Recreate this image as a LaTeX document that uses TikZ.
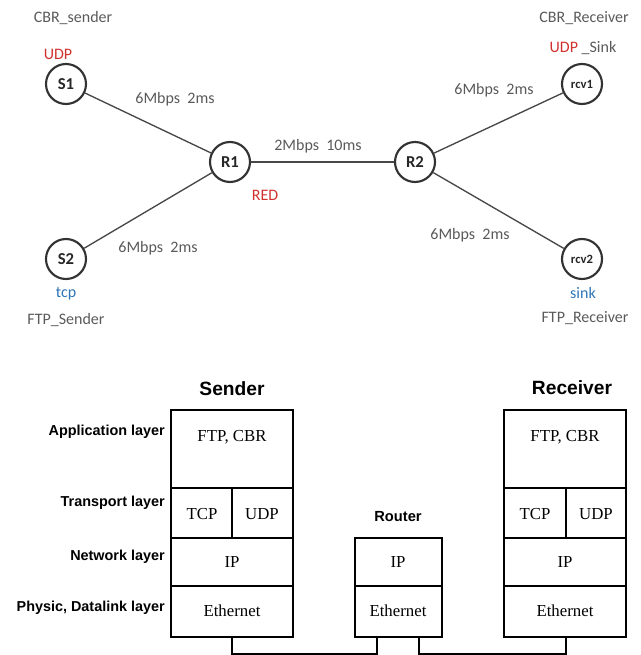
\documentclass[tikz,border=0pt]{standalone}
\usepackage{fontspec}
\setmainfont{Liberation Serif}
\setsansfont{Liberation Sans}
\newfontfamily\calfont{Carlito}
\definecolor{labelgray}{HTML}{5A5A5A}
\definecolor{nodegray}{HTML}{333333}
\definecolor{udpred}{HTML}{D0312D}
\definecolor{tcpblue}{HTML}{2E75B6}
\begin{document}
\begin{tikzpicture}[x=0.75pt,y=-0.75pt,
  host/.style={circle,draw=nodegray,line width=1.6pt,minimum size=30pt,inner sep=0pt,
    font=\calfont\fontsize{12.5}{13}\selectfont\bfseries,text=black!85},
  rcv/.style={host,font=\calfont\fontsize{9.5}{10}\selectfont\bfseries},
  link/.style={draw=nodegray!90,line width=1pt},
  toptext/.style={font=\calfont\fontsize{12}{14}\selectfont,text=labelgray,inner sep=0pt},
  redtext/.style={toptext,text=udpred},
  bluetext/.style={toptext,text=tcpblue},
  layername/.style={font=\sffamily\bfseries\fontsize{10.8}{12}\selectfont,anchor=east,inner sep=0pt},
  title/.style={font=\sffamily\bfseries\fontsize{14.4}{16}\selectfont,inner sep=0pt},
  cellline/.style={line width=0.9pt},
  frame/.style={line width=1.6pt},
  celltext/.style={font=\rmfamily\fontsize{12.6}{14}\selectfont,inner sep=0pt},
  wire/.style={line width=1pt}]
\useasboundingbox (0,0) rectangle (640,655);

% ---------- topology ----------
\node[host] (S1) at (66,84) {S1};
\node[host] (S2) at (66,259) {S2};
\node[host] (R1) at (230,162) {R1};
\node[host] (R2) at (415,162) {R2};
\node[rcv] (rcv1) at (582,84) {rcv1};
\node[rcv] (rcv2) at (582,259) {rcv2};

\draw[link] (S1) -- (R1);
\draw[link] (S2) -- (R1);
\draw[link] (R1) -- (R2);
\draw[link] (R2) -- (rcv1);
\draw[link] (R2) -- (rcv2);

\node[toptext] (l1) at (175,99) {6Mbps\ \ 2ms};
\node[toptext] (l2) at (158,248) {6Mbps\ \ 2ms};
\node[toptext] (l3) at (318,146) {2Mbps\ \ 10ms};
\node[toptext] (l4) at (494,90) {6Mbps\ \ 2ms};
\node[toptext] (l5) at (470,235) {6Mbps\ \ 2ms};

\node[toptext] (cbrs) at (73,18) {CBR\_sender};
\node[redtext] (udp1) at (58,54) {UDP};
\node[bluetext] (tcp1) at (66,294) {tcp};
\node[toptext] (ftps) at (66,320) {FTP\_Sender};
\node[redtext] (red) at (265,195) {RED};
\node[toptext] (cbrr) at (584,18) {CBR\_Receiver};
\node[toptext] (udps) at (583,48) {\textcolor{udpred}{UDP} \_Sink};
\node[bluetext] (sink) at (583,293) {sink};
\node[toptext] (ftpr) at (585,318) {FTP\_Receiver};

% ---------- protocol stacks ----------
\node[title] (tSend) at (232,389) {Sender};
\node[title] (tRecv) at (572,388) {Receiver};
\node[font=\sffamily\bfseries\fontsize{11}{13}\selectfont,inner sep=0pt] (tRout) at (398,517) {Router};

\node[layername] (nApp) at (165,432) {Application layer};
\node[layername] (nTra) at (165,503) {Transport layer};
\node[layername] (nNet) at (165,557) {Network layer};
\node[layername] (nPhy) at (165,608) {Physic, Datalink layer};

% sender cells
\draw[cellline] (171,488) -- (293,488) (171,538) -- (293,538) (171,586) -- (293,586) (232,488) -- (232,538);
\draw[frame] (171,410) rectangle (293,637);
% receiver cells
\draw[cellline] (504,488) -- (626,488) (504,538) -- (626,538) (504,586) -- (626,586) (566,488) -- (566,538);
\draw[frame] (504,410) rectangle (626,637);
% router cells
\draw[cellline] (355,586) -- (442,586);
\draw[frame] (355,538) rectangle (442,637);

\node[celltext] (sApp) at (232,437) {FTP, CBR};
\node[celltext] (sTcp) at (202,514) {TCP};
\node[celltext] (sUdp) at (262,514) {UDP};
\node[celltext] (sIp) at (232,562) {IP};
\node[celltext] (sEth) at (232,611) {Ethernet};

\node[celltext] (rApp) at (565,437) {FTP, CBR};
\node[celltext] (rTcp) at (535,514) {TCP};
\node[celltext] (rUdp) at (596,514) {UDP};
\node[celltext] (rIp) at (565,562) {IP};
\node[celltext] (rEth) at (565,611) {Ethernet};

\node[celltext] (gIp) at (398,562) {IP};
\node[celltext] (gEth) at (398,611) {Ethernet};

% wiring between the stacks
\coordinate (sPort) at (232,637);
\coordinate (gPortL) at (377,637);
\coordinate (gPortR) at (419,637);
\coordinate (rPort) at (566,637);
\draw[wire] (sPort) -- ++(0,17) -| (gPortL);
\draw[wire] (gPortR) -- ++(0,17) -| (rPort);
\end{tikzpicture}
\end{document}
